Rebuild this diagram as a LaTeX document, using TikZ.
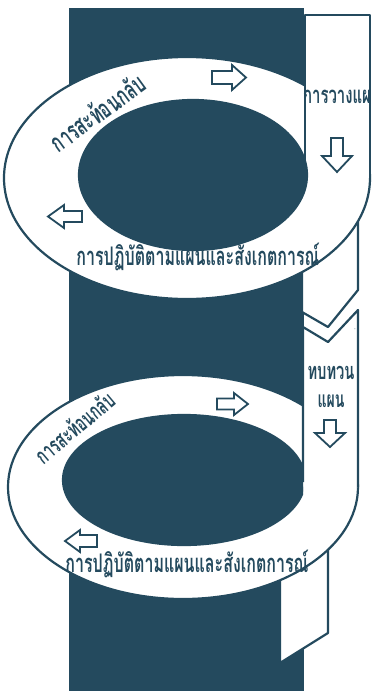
\documentclass[tikz,border=0pt]{standalone}
\usepackage{fontspec}
\usetikzlibrary{shapes.geometric}
\newfontfamily\thai[Script=Thai]{Loma}
\definecolor{teal1}{RGB}{36,74,94}
\newcommand\tlbl[2]{\scalebox{1}[1.6]{\resizebox{#1}{!}{#2}}}
\begin{document}
\begin{tikzpicture}[x=1pt,y=-1pt,line width=2.2pt,line join=round,
  piece/.style={fill=white,draw=teal1},
  darkfill/.style={fill=teal1,draw=teal1},
  holarrow/.style={fill=white,draw=teal1,line width=1.8pt,line join=miter},
  lbl/.style={font=\thai\bfseries,text=teal1,inner sep=0pt}]
\useasboundingbox (0,0) rectangle (375,691);
\fill[white] (0,0) rectangle (375,691);
\fill[teal1] (69,8) rectangle (304,691);

% ---------- upper cycle ----------
\filldraw[piece] (302,250) -- (302,312) -- (328,327) -- (358,290) -- (358,210);
\node[piece,ellipse,minimum width=366pt,minimum height=242pt,inner sep=0pt] (outerA) at (187,178) {};
\fill[white] (305,15) rectangle (370,178);
\node[darkfill,ellipse,minimum width=228pt,minimum height=150pt,inner sep=0pt] (innerA) at (193,175) {};
\coordinate (sA1) at (305,185);
\coordinate (sA2) at (305,15);
\coordinate (sA3) at (370,15);
\coordinate (sA4) at (370,178);
\begin{scope}
\clip (300,0) rectangle (369,691);
\node[lbl,anchor=west] (planA) at (302,97) {\tlbl{78pt}{การวางแผน}};
\end{scope}
\draw[teal1] (sA1) -- (sA2) -- (sA3) -- (sA4);

\node[lbl,rotate=36] (reflA) at (97,112) {\tlbl{110pt}{การสะท้อนกลับ}};
\node[lbl] (actA) at (198,257) {\tlbl{243pt}{การปฏิบัติตามแผนและสังเกตการณ์}};
\draw[holarrow] (212,71) -- (232,71) -- (232,65) -- (246,77.5) -- (232,90) -- (232,84) -- (212,84) -- cycle;
\draw[holarrow] (331,138) -- (343,138) -- (343,156) -- (352,156) -- (337,172) -- (322,156) -- (331,156) -- cycle;
\draw[holarrow] (82,211) -- (64,211) -- (64,205) -- (48,216.5) -- (64,228) -- (64,222) -- (82,222) -- cycle;

% ---------- lower cycle ----------
\filldraw[piece] (280,540) -- (280,663) -- (328,633) -- (328,520);
\node[piece,ellipse,minimum width=350pt,minimum height=224pt,inner sep=0pt] (outerB) at (183,487) {};
\fill[white] (303,327) -- (328,342) -- (358,310) -- (358,487) -- (303,487) -- cycle;
\begin{scope}
\clip (0,0) rectangle (303,691);
\node[darkfill,ellipse,minimum width=242pt,minimum height=130pt,inner sep=0pt] (innerB) at (184,480) {};
\end{scope}
\draw[teal1] (303,482) -- (303,327) -- (328,342) -- (358,310) -- (358,487);
\node[lbl,font=\sffamily\tiny] (dash) at (355,330) {-};

\node[lbl] (revB1) at (331,373) {\tlbl{47pt}{ทบทวน}};
\node[lbl] (revB2) at (331,401) {\tlbl{27pt}{แผน}};
\node[lbl,rotate=40] (reflB) at (74,427) {\tlbl{96pt}{การสะท้อนกลับ}};
\node[lbl] (actB) at (187,564) {\tlbl{243pt}{การปฏิบัติตามแผนและสังเกตการณ์}};
\draw[holarrow] (217,398.5) -- (234,398.5) -- (234,393) -- (248,404) -- (234,415) -- (234,409.5) -- (217,409.5) -- cycle;
\draw[holarrow] (324,420) -- (336,420) -- (336,433) -- (345,433) -- (330,447) -- (315,433) -- (324,433) -- cycle;
\draw[holarrow] (97,535) -- (80,535) -- (80,530) -- (65,541) -- (80,552) -- (80,547) -- (97,547) -- cycle;
\end{tikzpicture}
\end{document}
